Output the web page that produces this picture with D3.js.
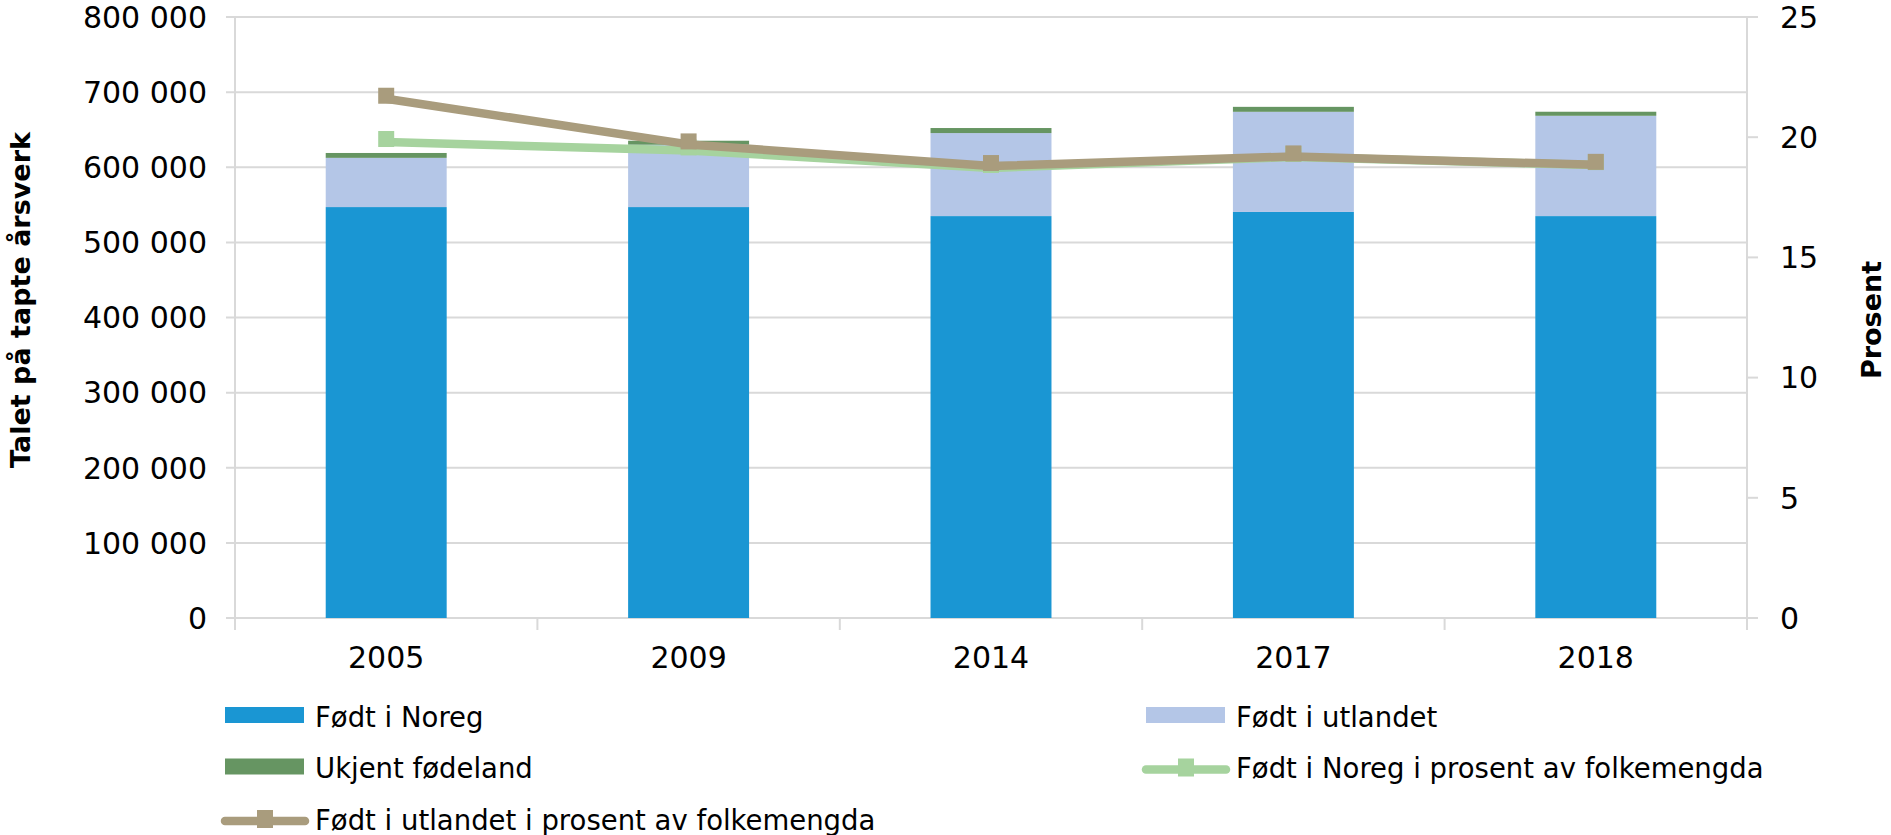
<!DOCTYPE html>
<meta charset="utf-8">
<script src="https://cdn.jsdelivr.net/npm/d3@7/dist/d3.min.js"></script>
<style>
  body { margin: 0; background: #fff; }
  text { font-family: "DejaVu Sans", Verdana, sans-serif; fill: #000; }
</style>
<svg id="chart" width="1891" height="835"></svg>
<script>
// data
const years = ["2005", "2009", "2014", "2017", "2018"];
const fodtNoreg = [547000, 547000, 535000, 540500, 535000];
const fodtUtlandet = [65500, 83000, 110500, 133300, 133500];
const ukjent = [6500, 5300, 6700, 6600, 5400];
const pctNoreg = [19.8, 19.45, 18.72, 19.18, 18.84];
const pctUtlandet = [21.6, 19.7, 18.8, 19.2, 18.85];
const leftTicks = [0, 100000, 200000, 300000, 400000, 500000, 600000, 700000, 800000];
const rightTicks = [0, 5, 10, 15, 20, 25];

const colBlue = "#1a96d3", colLight = "#b4c6e7", colDark = "#669562";
const colLineGreen = "#a6d39e", colTan = "#a99c7d", colGrid = "#d9d9d9";

const margin = {top: 17, right: 144, bottom: 217, left: 235};
const W = 1891, H = 835;
const innerW = W - margin.left - margin.right;
const innerH = H - margin.top - margin.bottom;

const svg = d3.select("#chart");
const g = svg.append("g").attr("transform", `translate(${margin.left},${margin.top})`);

const x = d3.scaleBand().domain(years).range([0, innerW]).paddingInner(0.6).paddingOuter(0.3);
const y = d3.scaleLinear().domain([0, 800000]).range([innerH, 0]);
const y2 = d3.scaleLinear().domain([0, 25]).range([innerH, 0]);
const step = x.step();

// gridlines + left ticks
g.append("g").selectAll("line").data(leftTicks).join("line")
  .attr("x1", -9).attr("x2", innerW)
  .attr("y1", d => y(d)).attr("y2", d => y(d))
  .attr("stroke", colGrid).attr("stroke-width", 2);

// right ticks
g.append("g").selectAll("line").data(rightTicks).join("line")
  .attr("x1", innerW).attr("x2", innerW + 11)
  .attr("y1", d => y2(d)).attr("y2", d => y2(d))
  .attr("stroke", colGrid).attr("stroke-width", 2);

// axis lines
g.append("line").attr("x1", 0).attr("x2", 0).attr("y1", 0).attr("y2", innerH)
  .attr("stroke", colGrid).attr("stroke-width", 2);
g.append("line").attr("x1", innerW).attr("x2", innerW).attr("y1", 0).attr("y2", innerH)
  .attr("stroke", colGrid).attr("stroke-width", 2);

// category boundary ticks on x axis
g.append("g").selectAll("line").data(d3.range(years.length + 1)).join("line")
  .attr("x1", i => i * step).attr("x2", i => i * step)
  .attr("y1", innerH).attr("y2", innerH + 12)
  .attr("stroke", colGrid).attr("stroke-width", 2);

// stacked bars
const rows = years.map((yr, i) => ({year: yr, noreg: fodtNoreg[i], utland: fodtUtlandet[i], ukjent: ukjent[i]}));
const keys = ["noreg", "utland", "ukjent"];
const colors = {noreg: colBlue, utland: colLight, ukjent: colDark};
const stack = d3.stack().keys(keys)(rows);

g.append("g").selectAll("g").data(stack).join("g")
  .attr("fill", s => colors[s.key])
  .selectAll("rect").data(s => s).join("rect")
  .attr("x", d => x(d.data.year))
  .attr("width", x.bandwidth())
  .attr("y", d => y(d[1]))
  .attr("height", d => y(d[0]) - y(d[1]));

// percent lines
const line = d3.line()
  .x((d, i) => x(years[i]) + x.bandwidth() / 2)
  .y(d => y2(d));

function drawLine(vals, color) {
  g.append("path").datum(vals)
    .attr("d", line)
    .attr("fill", "none")
    .attr("stroke", color)
    .attr("stroke-width", 8.5)
    .attr("stroke-linejoin", "round")
    .attr("stroke-linecap", "round");
  g.append("g").selectAll("rect").data(vals).join("rect")
    .attr("x", (d, i) => x(years[i]) + x.bandwidth() / 2 - 8)
    .attr("y", d => y2(d) - 11)
    .attr("width", 16).attr("height", 16)
    .attr("fill", color);
}
drawLine(pctNoreg, colLineGreen);
drawLine(pctUtlandet, colTan);

// axis labels
g.append("g").selectAll("text").data(leftTicks).join("text")
  .attr("x", -28).attr("y", d => y(d)).attr("dy", "0.36em")
  .attr("text-anchor", "end").style("font-size", "30px")
  .text(d => d === 0 ? "0" : d3.format(",")(d).replace(/,/g, " "));

g.append("g").selectAll("text").data(rightTicks).join("text")
  .attr("x", innerW + 33).attr("y", d => y2(d)).attr("dy", "0.36em")
  .attr("text-anchor", "start").style("font-size", "30px")
  .text(d => d);

g.append("g").selectAll("text").data(years).join("text")
  .attr("x", d => x(d) + x.bandwidth() / 2).attr("y", innerH + 39).attr("dy", "0.36em")
  .attr("text-anchor", "middle").style("font-size", "30px")
  .text(d => d);

// axis titles
svg.append("text")
  .attr("transform", "translate(30,300) rotate(-90)")
  .attr("text-anchor", "middle").style("font-size", "27px").style("font-weight", "bold")
  .text("Talet på tapte årsverk");
svg.append("text")
  .attr("transform", "translate(1881,320) rotate(-90)")
  .attr("text-anchor", "middle").style("font-size", "27px").style("font-weight", "bold")
  .text("Prosent");

// legend
const legendItems = [
  {label: "Født i Noreg", type: "rect", color: colBlue, col: 0, row: 0},
  {label: "Født i utlandet", type: "rect", color: colLight, col: 1, row: 0},
  {label: "Ukjent fødeland", type: "rect", color: colDark, col: 0, row: 1},
  {label: "Født i Noreg i prosent av folkemengda", type: "line", color: colLineGreen, col: 1, row: 1},
  {label: "Født i utlandet i prosent av folkemengda", type: "line", color: colTan, col: 0, row: 2}
];
const legX = [225, 1146], legY0 = 715, legDy = 51.5;
const leg = svg.append("g").selectAll("g").data(legendItems).join("g")
  .attr("transform", d => `translate(${legX[d.col]},${legY0 + d.row * legDy})`);

leg.filter(d => d.type === "rect").append("rect")
  .attr("x", 0).attr("y", -8).attr("width", 79).attr("height", 16)
  .attr("fill", d => d.color);
leg.filter(d => d.type === "line").append("line")
  .attr("x1", 0).attr("x2", 80).attr("y1", 3).attr("y2", 3)
  .attr("stroke", d => d.color).attr("stroke-width", 8.5).attr("stroke-linecap", "round");
leg.filter(d => d.type === "line").append("rect")
  .attr("x", 32).attr("y", -8).attr("width", 16).attr("height", 18)
  .attr("fill", d => d.color);
leg.append("text")
  .attr("x", 90).attr("y", 2).attr("dy", "0.36em")
  .style("font-size", "27.5px")
  .text(d => d.label);
</script>
